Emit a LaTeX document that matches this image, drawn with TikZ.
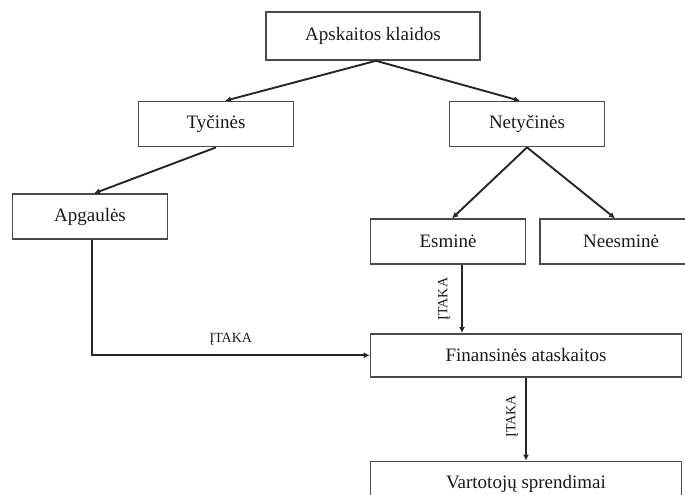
\documentclass[tikz,border=0pt]{standalone}
\usepackage{fontspec}
\setmainfont{Liberation Serif}
\usepackage{tikz}
\usetikzlibrary{arrows.meta,positioning}
\usepackage{xcolor}
\definecolor{linegray}{HTML}{262626}
\definecolor{boxgray}{HTML}{4A4A4A}

\begin{document}
\begin{tikzpicture}[
  box/.style={draw=boxgray, line width=1.6pt, align=center, text=black!90,
              font=\fontsize{19}{23}\selectfont, minimum width=155pt,
              minimum height=45pt, inner sep=2pt},
  wide/.style={box, minimum width=311pt},
  lbl/.style={font=\fontsize{14}{16}\selectfont, text=black!90, inner sep=2pt},
  arr/.style={-{Latex[length=6pt,width=6pt]}, draw=linegray, line width=1.9pt}]
  \useasboundingbox (0,0) rectangle (685pt,-495pt);
  \node[box, minimum width=214pt, minimum height=48pt] (klaidos) at (373pt,-36pt) {Apskaitos klaidos};
  \node[box, below=40pt of klaidos, xshift=-157pt] (tycines) {Tyčinės};
  \node[box, below=40pt of klaidos, xshift=154pt] (netycines) {Netyčinės};
  \node[box, below=46pt of tycines, xshift=-126pt] (apgaules) {Apgaulės};
  \node[box, below=71pt of netycines, xshift=-79pt] (esmine) {Esminė};
  \node[box, right=13pt of esmine, minimum width=160pt, text width=150pt, align=left] (neesmine) {\hspace{38pt}Neesminė};
  \node[wide, below=68pt of esmine.south west, anchor=north west, minimum height=43pt] (ataskaitos) {Finansinės ataskaitos};
  \node[wide, below=83pt of ataskaitos] (sprendimai) {Vartotojų sprendimai};
  \draw[arr] ([xshift=3pt]klaidos.south) -- ([xshift=9pt]tycines.north);
  \draw[arr] ([xshift=3pt]klaidos.south) -- ([xshift=-7pt]netycines.north);
  \draw[arr] (tycines.south) -- ([xshift=4pt]apgaules.north);
  \draw[arr] (netycines.south) -- ([xshift=4pt]esmine.north);
  \draw[arr] (netycines.south) -- ([xshift=-5pt]neesmine.north);
  \draw[arr] ([xshift=2pt]apgaules.south) |- node[lbl, pos=0.75, above=7pt] {ĮTAKA} (ataskaitos.west);
  \draw[arr] ([xshift=14pt]esmine.south) -- node[lbl, rotate=90, anchor=south, yshift=9pt] {ĮTAKA}
    ([xshift=14pt]esmine.south |- ataskaitos.north);
  \draw[arr] (ataskaitos.south) -- node[lbl, rotate=90, anchor=south, xshift=3pt, yshift=5pt] {ĮTAKA} (sprendimai.north);
\end{tikzpicture}
\end{document}
